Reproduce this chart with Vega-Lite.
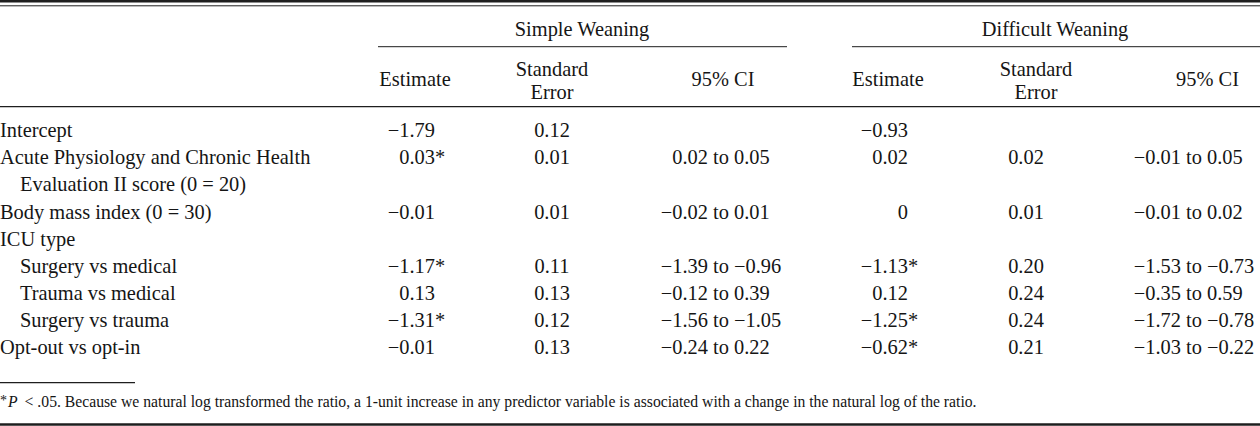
{
  "$schema": "https://vega.github.io/schema/vega-lite/v6.json",
  "width": 1260,
  "height": 426,
  "padding": 0,
  "autosize": {"type": "none"},
  "background": "white",
  "config": {
    "view": {"stroke": null},
    "axis": {"disable": true},
    "text": {"font": "Liberation Serif", "fontSize": 20.4, "color": "#151515", "baseline": "alphabetic"},
    "rule": {"color": "#1e1e1e"}
  },
  "datasets": {
    "rows": [
      {"line": 1, "label": "Intercept", "level": 0, "s_est": "−1.79", "s_se": "0.12", "d_est": "−0.93"},
      {"line": 2, "label": "Acute Physiology and Chronic Health", "level": 0, "s_est": "0.03", "s_sig": "*", "s_se": "0.01", "s_lo": "0.02", "s_hi": "0.05", "d_est": "0.02", "d_se": "0.02", "d_lo": "−0.01", "d_hi": "0.05"},
      {"line": 3, "label": "Evaluation II score (0 = 20)", "level": 1},
      {"line": 4, "label": "Body mass index (0 = 30)", "level": 0, "s_est": "−0.01", "s_se": "0.01", "s_lo": "−0.02", "s_hi": "0.01", "d_est": "0", "d_se": "0.01", "d_lo": "−0.01", "d_hi": "0.02"},
      {"line": 5, "label": "ICU type", "level": 0},
      {"line": 6, "label": "Surgery vs medical", "level": 1, "s_est": "−1.17", "s_sig": "*", "s_se": "0.11", "s_lo": "−1.39", "s_hi": "−0.96", "d_est": "−1.13", "d_sig": "*", "d_se": "0.20", "d_lo": "−1.53", "d_hi": "−0.73"},
      {"line": 7, "label": "Trauma vs medical", "level": 1, "s_est": "0.13", "s_se": "0.13", "s_lo": "−0.12", "s_hi": "0.39", "d_est": "0.12", "d_se": "0.24", "d_lo": "−0.35", "d_hi": "0.59"},
      {"line": 8, "label": "Surgery vs trauma", "level": 1, "s_est": "−1.31", "s_sig": "*", "s_se": "0.12", "s_lo": "−1.56", "s_hi": "−1.05", "d_est": "−1.25", "d_sig": "*", "d_se": "0.24", "d_lo": "−1.72", "d_hi": "−0.78"},
      {"line": 9, "label": "Opt-out vs opt-in", "level": 0, "s_est": "−0.01", "s_se": "0.13", "s_lo": "−0.24", "s_hi": "0.22", "d_est": "−0.62", "d_sig": "*", "d_se": "0.21", "d_lo": "−1.03", "d_hi": "−0.22"}
    ],
    "one": [{}]
  },
  "data": {"name": "rows"},
  "layer": [
    {"data": {"name": "one"}, "mark": {"type": "rule", "strokeWidth": 2.6},
     "encoding": {"x": {"datum": 0, "type": "quantitative", "scale": {"domain": [0,1,2,3,4,5,6,7,8,9,10,11,12,13,14,15,16,17,18,19,20,21,22,23], "range": [0,20,135,378,415,435,552,582,708,721,723,734,787,852,888,908,1026,1036,1055,1181,1194,1207,1207.5,1260], "nice": false, "zero": false}}, "x2": {"datum": 23},
       "y": {"datum": -7, "type": "quantitative", "scale": {"domain": [-7,-6,-5,-4,-3,-2,-1,1,9,10,11,12], "range": [1.3,5.8,36,46.7,76,86,106.7,137.3,354,382.7,407,424.5], "nice": false, "zero": false}}}},
    {"data": {"name": "one"}, "mark": {"type": "rule", "strokeWidth": 1},
     "encoding": {"x": {"datum": 0, "type": "quantitative", "scale": {"domain": [0,1,2,3,4,5,6,7,8,9,10,11,12,13,14,15,16,17,18,19,20,21,22,23], "range": [0,20,135,378,415,435,552,582,708,721,723,734,787,852,888,908,1026,1036,1055,1181,1194,1207,1207.5,1260], "nice": false, "zero": false}}, "x2": {"datum": 23},
       "y": {"datum": -6, "type": "quantitative", "scale": {"domain": [-7,-6,-5,-4,-3,-2,-1,1,9,10,11,12], "range": [1.3,5.8,36,46.7,76,86,106.7,137.3,354,382.7,407,424.5], "nice": false, "zero": false}}}},
    {"data": {"name": "one"}, "mark": {"type": "rule", "strokeWidth": 1},
     "encoding": {"x": {"datum": 3, "type": "quantitative", "scale": {"domain": [0,1,2,3,4,5,6,7,8,9,10,11,12,13,14,15,16,17,18,19,20,21,22,23], "range": [0,20,135,378,415,435,552,582,708,721,723,734,787,852,888,908,1026,1036,1055,1181,1194,1207,1207.5,1260], "nice": false, "zero": false}}, "x2": {"datum": 12},
       "y": {"datum": -4, "type": "quantitative", "scale": {"domain": [-7,-6,-5,-4,-3,-2,-1,1,9,10,11,12], "range": [1.3,5.8,36,46.7,76,86,106.7,137.3,354,382.7,407,424.5], "nice": false, "zero": false}}}},
    {"data": {"name": "one"}, "mark": {"type": "rule", "strokeWidth": 1},
     "encoding": {"x": {"datum": 13, "type": "quantitative", "scale": {"domain": [0,1,2,3,4,5,6,7,8,9,10,11,12,13,14,15,16,17,18,19,20,21,22,23], "range": [0,20,135,378,415,435,552,582,708,721,723,734,787,852,888,908,1026,1036,1055,1181,1194,1207,1207.5,1260], "nice": false, "zero": false}}, "x2": {"datum": 23},
       "y": {"datum": -4, "type": "quantitative", "scale": {"domain": [-7,-6,-5,-4,-3,-2,-1,1,9,10,11,12], "range": [1.3,5.8,36,46.7,76,86,106.7,137.3,354,382.7,407,424.5], "nice": false, "zero": false}}}},
    {"data": {"name": "one"}, "mark": {"type": "rule", "strokeWidth": 1.3},
     "encoding": {"x": {"datum": 0, "type": "quantitative", "scale": {"domain": [0,1,2,3,4,5,6,7,8,9,10,11,12,13,14,15,16,17,18,19,20,21,22,23], "range": [0,20,135,378,415,435,552,582,708,721,723,734,787,852,888,908,1026,1036,1055,1181,1194,1207,1207.5,1260], "nice": false, "zero": false}}, "x2": {"datum": 23},
       "y": {"datum": -1, "type": "quantitative", "scale": {"domain": [-7,-6,-5,-4,-3,-2,-1,1,9,10,11,12], "range": [1.3,5.8,36,46.7,76,86,106.7,137.3,354,382.7,407,424.5], "nice": false, "zero": false}}}},
    {"data": {"name": "one"}, "mark": {"type": "rule", "strokeWidth": 1.3},
     "encoding": {"x": {"datum": 0, "type": "quantitative", "scale": {"domain": [0,1,2,3,4,5,6,7,8,9,10,11,12,13,14,15,16,17,18,19,20,21,22,23], "range": [0,20,135,378,415,435,552,582,708,721,723,734,787,852,888,908,1026,1036,1055,1181,1194,1207,1207.5,1260], "nice": false, "zero": false}}, "x2": {"datum": 2},
       "y": {"datum": 10, "type": "quantitative", "scale": {"domain": [-7,-6,-5,-4,-3,-2,-1,1,9,10,11,12], "range": [1.3,5.8,36,46.7,76,86,106.7,137.3,354,382.7,407,424.5], "nice": false, "zero": false}}}},
    {"data": {"name": "one"}, "mark": {"type": "rule", "strokeWidth": 2.6},
     "encoding": {"x": {"datum": 0, "type": "quantitative", "scale": {"domain": [0,1,2,3,4,5,6,7,8,9,10,11,12,13,14,15,16,17,18,19,20,21,22,23], "range": [0,20,135,378,415,435,552,582,708,721,723,734,787,852,888,908,1026,1036,1055,1181,1194,1207,1207.5,1260], "nice": false, "zero": false}}, "x2": {"datum": 23},
       "y": {"datum": 12, "type": "quantitative", "scale": {"domain": [-7,-6,-5,-4,-3,-2,-1,1,9,10,11,12], "range": [1.3,5.8,36,46.7,76,86,106.7,137.3,354,382.7,407,424.5], "nice": false, "zero": false}}}},

    {"data": {"name": "one"}, "mark": {"type": "text", "align": "center", "text": "Simple Weaning"},
     "encoding": {"x": {"datum": 7, "type": "quantitative", "scale": {"domain": [0,1,2,3,4,5,6,7,8,9,10,11,12,13,14,15,16,17,18,19,20,21,22,23], "range": [0,20,135,378,415,435,552,582,708,721,723,734,787,852,888,908,1026,1036,1055,1181,1194,1207,1207.5,1260], "nice": false, "zero": false}},
       "y": {"datum": -5, "type": "quantitative", "scale": {"domain": [-7,-6,-5,-4,-3,-2,-1,1,9,10,11,12], "range": [1.3,5.8,36,46.7,76,86,106.7,137.3,354,382.7,407,424.5], "nice": false, "zero": false}}}},
    {"data": {"name": "one"}, "mark": {"type": "text", "align": "center", "text": "Difficult Weaning"},
     "encoding": {"x": {"datum": 18, "type": "quantitative", "scale": {"domain": [0,1,2,3,4,5,6,7,8,9,10,11,12,13,14,15,16,17,18,19,20,21,22,23], "range": [0,20,135,378,415,435,552,582,708,721,723,734,787,852,888,908,1026,1036,1055,1181,1194,1207,1207.5,1260], "nice": false, "zero": false}},
       "y": {"datum": -5, "type": "quantitative", "scale": {"domain": [-7,-6,-5,-4,-3,-2,-1,1,9,10,11,12], "range": [1.3,5.8,36,46.7,76,86,106.7,137.3,354,382.7,407,424.5], "nice": false, "zero": false}}}},
    {"data": {"name": "one"}, "mark": {"type": "text", "align": "center", "text": "Estimate"},
     "encoding": {"x": {"datum": 4, "type": "quantitative", "scale": {"domain": [0,1,2,3,4,5,6,7,8,9,10,11,12,13,14,15,16,17,18,19,20,21,22,23], "range": [0,20,135,378,415,435,552,582,708,721,723,734,787,852,888,908,1026,1036,1055,1181,1194,1207,1207.5,1260], "nice": false, "zero": false}},
       "y": {"datum": -2, "type": "quantitative", "scale": {"domain": [-7,-6,-5,-4,-3,-2,-1,1,9,10,11,12], "range": [1.3,5.8,36,46.7,76,86,106.7,137.3,354,382.7,407,424.5], "nice": false, "zero": false}}}},
    {"data": {"name": "one"}, "mark": {"type": "text", "align": "center", "text": "Estimate"},
     "encoding": {"x": {"datum": 14, "type": "quantitative", "scale": {"domain": [0,1,2,3,4,5,6,7,8,9,10,11,12,13,14,15,16,17,18,19,20,21,22,23], "range": [0,20,135,378,415,435,552,582,708,721,723,734,787,852,888,908,1026,1036,1055,1181,1194,1207,1207.5,1260], "nice": false, "zero": false}},
       "y": {"datum": -2, "type": "quantitative", "scale": {"domain": [-7,-6,-5,-4,-3,-2,-1,1,9,10,11,12], "range": [1.3,5.8,36,46.7,76,86,106.7,137.3,354,382.7,407,424.5], "nice": false, "zero": false}}}},
    {"data": {"name": "one"}, "mark": {"type": "text", "align": "center", "text": ["Standard", "Error"], "lineHeight": 22.7},
     "encoding": {"x": {"datum": 6, "type": "quantitative", "scale": {"domain": [0,1,2,3,4,5,6,7,8,9,10,11,12,13,14,15,16,17,18,19,20,21,22,23], "range": [0,20,135,378,415,435,552,582,708,721,723,734,787,852,888,908,1026,1036,1055,1181,1194,1207,1207.5,1260], "nice": false, "zero": false}},
       "y": {"datum": -3, "type": "quantitative", "scale": {"domain": [-7,-6,-5,-4,-3,-2,-1,1,9,10,11,12], "range": [1.3,5.8,36,46.7,76,86,106.7,137.3,354,382.7,407,424.5], "nice": false, "zero": false}}}},
    {"data": {"name": "one"}, "mark": {"type": "text", "align": "center", "text": ["Standard", "Error"], "lineHeight": 22.7},
     "encoding": {"x": {"datum": 17, "type": "quantitative", "scale": {"domain": [0,1,2,3,4,5,6,7,8,9,10,11,12,13,14,15,16,17,18,19,20,21,22,23], "range": [0,20,135,378,415,435,552,582,708,721,723,734,787,852,888,908,1026,1036,1055,1181,1194,1207,1207.5,1260], "nice": false, "zero": false}},
       "y": {"datum": -3, "type": "quantitative", "scale": {"domain": [-7,-6,-5,-4,-3,-2,-1,1,9,10,11,12], "range": [1.3,5.8,36,46.7,76,86,106.7,137.3,354,382.7,407,424.5], "nice": false, "zero": false}}}},
    {"data": {"name": "one"}, "mark": {"type": "text", "align": "center", "text": "95% CI"},
     "encoding": {"x": {"datum": 10, "type": "quantitative", "scale": {"domain": [0,1,2,3,4,5,6,7,8,9,10,11,12,13,14,15,16,17,18,19,20,21,22,23], "range": [0,20,135,378,415,435,552,582,708,721,723,734,787,852,888,908,1026,1036,1055,1181,1194,1207,1207.5,1260], "nice": false, "zero": false}},
       "y": {"datum": -2, "type": "quantitative", "scale": {"domain": [-7,-6,-5,-4,-3,-2,-1,1,9,10,11,12], "range": [1.3,5.8,36,46.7,76,86,106.7,137.3,354,382.7,407,424.5], "nice": false, "zero": false}}}},
    {"data": {"name": "one"}, "mark": {"type": "text", "align": "center", "text": "95% CI"},
     "encoding": {"x": {"datum": 22, "type": "quantitative", "scale": {"domain": [0,1,2,3,4,5,6,7,8,9,10,11,12,13,14,15,16,17,18,19,20,21,22,23], "range": [0,20,135,378,415,435,552,582,708,721,723,734,787,852,888,908,1026,1036,1055,1181,1194,1207,1207.5,1260], "nice": false, "zero": false}},
       "y": {"datum": -2, "type": "quantitative", "scale": {"domain": [-7,-6,-5,-4,-3,-2,-1,1,9,10,11,12], "range": [1.3,5.8,36,46.7,76,86,106.7,137.3,354,382.7,407,424.5], "nice": false, "zero": false}}}},

    {"mark": {"type": "text", "align": "left"},
     "encoding": {"x": {"field": "level", "type": "quantitative", "scale": {"domain": [0,1,2,3,4,5,6,7,8,9,10,11,12,13,14,15,16,17,18,19,20,21,22,23], "range": [0,20,135,378,415,435,552,582,708,721,723,734,787,852,888,908,1026,1036,1055,1181,1194,1207,1207.5,1260], "nice": false, "zero": false}},
       "y": {"field": "line", "type": "quantitative", "scale": {"domain": [-7,-6,-5,-4,-3,-2,-1,1,9,10,11,12], "range": [1.3,5.8,36,46.7,76,86,106.7,137.3,354,382.7,407,424.5], "nice": false, "zero": false}},
       "text": {"field": "label"}}},

    {"transform": [{"filter": "isValid(datum.s_est)"}], "mark": {"type": "text", "align": "right"},
     "encoding": {"x": {"datum": 5, "type": "quantitative", "scale": {"domain": [0,1,2,3,4,5,6,7,8,9,10,11,12,13,14,15,16,17,18,19,20,21,22,23], "range": [0,20,135,378,415,435,552,582,708,721,723,734,787,852,888,908,1026,1036,1055,1181,1194,1207,1207.5,1260], "nice": false, "zero": false}},
       "y": {"field": "line", "type": "quantitative", "scale": {"domain": [-7,-6,-5,-4,-3,-2,-1,1,9,10,11,12], "range": [1.3,5.8,36,46.7,76,86,106.7,137.3,354,382.7,407,424.5], "nice": false, "zero": false}},
       "text": {"field": "s_est"}}},
    {"transform": [{"filter": "isValid(datum.s_sig)"}], "mark": {"type": "text", "align": "left"},
     "encoding": {"x": {"datum": 5, "type": "quantitative", "scale": {"domain": [0,1,2,3,4,5,6,7,8,9,10,11,12,13,14,15,16,17,18,19,20,21,22,23], "range": [0,20,135,378,415,435,552,582,708,721,723,734,787,852,888,908,1026,1036,1055,1181,1194,1207,1207.5,1260], "nice": false, "zero": false}},
       "y": {"field": "line", "type": "quantitative", "scale": {"domain": [-7,-6,-5,-4,-3,-2,-1,1,9,10,11,12], "range": [1.3,5.8,36,46.7,76,86,106.7,137.3,354,382.7,407,424.5], "nice": false, "zero": false}},
       "text": {"field": "s_sig"}}},
    {"transform": [{"filter": "isValid(datum.s_se)"}], "mark": {"type": "text", "align": "center"},
     "encoding": {"x": {"datum": 6, "type": "quantitative", "scale": {"domain": [0,1,2,3,4,5,6,7,8,9,10,11,12,13,14,15,16,17,18,19,20,21,22,23], "range": [0,20,135,378,415,435,552,582,708,721,723,734,787,852,888,908,1026,1036,1055,1181,1194,1207,1207.5,1260], "nice": false, "zero": false}},
       "y": {"field": "line", "type": "quantitative", "scale": {"domain": [-7,-6,-5,-4,-3,-2,-1,1,9,10,11,12], "range": [1.3,5.8,36,46.7,76,86,106.7,137.3,354,382.7,407,424.5], "nice": false, "zero": false}},
       "text": {"field": "s_se"}}},
    {"transform": [{"filter": "isValid(datum.s_lo)"}], "mark": {"type": "text", "align": "right"},
     "encoding": {"x": {"datum": 8, "type": "quantitative", "scale": {"domain": [0,1,2,3,4,5,6,7,8,9,10,11,12,13,14,15,16,17,18,19,20,21,22,23], "range": [0,20,135,378,415,435,552,582,708,721,723,734,787,852,888,908,1026,1036,1055,1181,1194,1207,1207.5,1260], "nice": false, "zero": false}},
       "y": {"field": "line", "type": "quantitative", "scale": {"domain": [-7,-6,-5,-4,-3,-2,-1,1,9,10,11,12], "range": [1.3,5.8,36,46.7,76,86,106.7,137.3,354,382.7,407,424.5], "nice": false, "zero": false}},
       "text": {"field": "s_lo"}}},
    {"transform": [{"filter": "isValid(datum.s_lo)"}], "mark": {"type": "text", "align": "center", "text": "to"},
     "encoding": {"x": {"datum": 9, "type": "quantitative", "scale": {"domain": [0,1,2,3,4,5,6,7,8,9,10,11,12,13,14,15,16,17,18,19,20,21,22,23], "range": [0,20,135,378,415,435,552,582,708,721,723,734,787,852,888,908,1026,1036,1055,1181,1194,1207,1207.5,1260], "nice": false, "zero": false}},
       "y": {"field": "line", "type": "quantitative", "scale": {"domain": [-7,-6,-5,-4,-3,-2,-1,1,9,10,11,12], "range": [1.3,5.8,36,46.7,76,86,106.7,137.3,354,382.7,407,424.5], "nice": false, "zero": false}}}},
    {"transform": [{"filter": "isValid(datum.s_hi)"}], "mark": {"type": "text", "align": "left"},
     "encoding": {"x": {"datum": 11, "type": "quantitative", "scale": {"domain": [0,1,2,3,4,5,6,7,8,9,10,11,12,13,14,15,16,17,18,19,20,21,22,23], "range": [0,20,135,378,415,435,552,582,708,721,723,734,787,852,888,908,1026,1036,1055,1181,1194,1207,1207.5,1260], "nice": false, "zero": false}},
       "y": {"field": "line", "type": "quantitative", "scale": {"domain": [-7,-6,-5,-4,-3,-2,-1,1,9,10,11,12], "range": [1.3,5.8,36,46.7,76,86,106.7,137.3,354,382.7,407,424.5], "nice": false, "zero": false}},
       "text": {"field": "s_hi"}}},

    {"transform": [{"filter": "isValid(datum.d_est)"}], "mark": {"type": "text", "align": "right"},
     "encoding": {"x": {"datum": 15, "type": "quantitative", "scale": {"domain": [0,1,2,3,4,5,6,7,8,9,10,11,12,13,14,15,16,17,18,19,20,21,22,23], "range": [0,20,135,378,415,435,552,582,708,721,723,734,787,852,888,908,1026,1036,1055,1181,1194,1207,1207.5,1260], "nice": false, "zero": false}},
       "y": {"field": "line", "type": "quantitative", "scale": {"domain": [-7,-6,-5,-4,-3,-2,-1,1,9,10,11,12], "range": [1.3,5.8,36,46.7,76,86,106.7,137.3,354,382.7,407,424.5], "nice": false, "zero": false}},
       "text": {"field": "d_est"}}},
    {"transform": [{"filter": "isValid(datum.d_sig)"}], "mark": {"type": "text", "align": "left"},
     "encoding": {"x": {"datum": 15, "type": "quantitative", "scale": {"domain": [0,1,2,3,4,5,6,7,8,9,10,11,12,13,14,15,16,17,18,19,20,21,22,23], "range": [0,20,135,378,415,435,552,582,708,721,723,734,787,852,888,908,1026,1036,1055,1181,1194,1207,1207.5,1260], "nice": false, "zero": false}},
       "y": {"field": "line", "type": "quantitative", "scale": {"domain": [-7,-6,-5,-4,-3,-2,-1,1,9,10,11,12], "range": [1.3,5.8,36,46.7,76,86,106.7,137.3,354,382.7,407,424.5], "nice": false, "zero": false}},
       "text": {"field": "d_sig"}}},
    {"transform": [{"filter": "isValid(datum.d_se)"}], "mark": {"type": "text", "align": "center"},
     "encoding": {"x": {"datum": 16, "type": "quantitative", "scale": {"domain": [0,1,2,3,4,5,6,7,8,9,10,11,12,13,14,15,16,17,18,19,20,21,22,23], "range": [0,20,135,378,415,435,552,582,708,721,723,734,787,852,888,908,1026,1036,1055,1181,1194,1207,1207.5,1260], "nice": false, "zero": false}},
       "y": {"field": "line", "type": "quantitative", "scale": {"domain": [-7,-6,-5,-4,-3,-2,-1,1,9,10,11,12], "range": [1.3,5.8,36,46.7,76,86,106.7,137.3,354,382.7,407,424.5], "nice": false, "zero": false}},
       "text": {"field": "d_se"}}},
    {"transform": [{"filter": "isValid(datum.d_lo)"}], "mark": {"type": "text", "align": "right"},
     "encoding": {"x": {"datum": 19, "type": "quantitative", "scale": {"domain": [0,1,2,3,4,5,6,7,8,9,10,11,12,13,14,15,16,17,18,19,20,21,22,23], "range": [0,20,135,378,415,435,552,582,708,721,723,734,787,852,888,908,1026,1036,1055,1181,1194,1207,1207.5,1260], "nice": false, "zero": false}},
       "y": {"field": "line", "type": "quantitative", "scale": {"domain": [-7,-6,-5,-4,-3,-2,-1,1,9,10,11,12], "range": [1.3,5.8,36,46.7,76,86,106.7,137.3,354,382.7,407,424.5], "nice": false, "zero": false}},
       "text": {"field": "d_lo"}}},
    {"transform": [{"filter": "isValid(datum.d_lo)"}], "mark": {"type": "text", "align": "center", "text": "to"},
     "encoding": {"x": {"datum": 20, "type": "quantitative", "scale": {"domain": [0,1,2,3,4,5,6,7,8,9,10,11,12,13,14,15,16,17,18,19,20,21,22,23], "range": [0,20,135,378,415,435,552,582,708,721,723,734,787,852,888,908,1026,1036,1055,1181,1194,1207,1207.5,1260], "nice": false, "zero": false}},
       "y": {"field": "line", "type": "quantitative", "scale": {"domain": [-7,-6,-5,-4,-3,-2,-1,1,9,10,11,12], "range": [1.3,5.8,36,46.7,76,86,106.7,137.3,354,382.7,407,424.5], "nice": false, "zero": false}}}},
    {"transform": [{"filter": "isValid(datum.d_hi)"}], "mark": {"type": "text", "align": "left"},
     "encoding": {"x": {"datum": 21, "type": "quantitative", "scale": {"domain": [0,1,2,3,4,5,6,7,8,9,10,11,12,13,14,15,16,17,18,19,20,21,22,23], "range": [0,20,135,378,415,435,552,582,708,721,723,734,787,852,888,908,1026,1036,1055,1181,1194,1207,1207.5,1260], "nice": false, "zero": false}},
       "y": {"field": "line", "type": "quantitative", "scale": {"domain": [-7,-6,-5,-4,-3,-2,-1,1,9,10,11,12], "range": [1.3,5.8,36,46.7,76,86,106.7,137.3,354,382.7,407,424.5], "nice": false, "zero": false}},
       "text": {"field": "d_hi"}}},

    {"data": {"name": "one"}, "mark": {"type": "text", "align": "left", "fontSize": 14, "text": "*", "dy": -2},
     "encoding": {"x": {"datum": 0, "type": "quantitative", "scale": {"domain": [0,1,2,3,4,5,6,7,8,9,10,11,12,13,14,15,16,17,18,19,20,21,22,23], "range": [0,20,135,378,415,435,552,582,708,721,723,734,787,852,888,908,1026,1036,1055,1181,1194,1207,1207.5,1260], "nice": false, "zero": false}},
       "y": {"datum": 11, "type": "quantitative", "scale": {"domain": [-7,-6,-5,-4,-3,-2,-1,1,9,10,11,12], "range": [1.3,5.8,36,46.7,76,86,106.7,137.3,354,382.7,407,424.5], "nice": false, "zero": false}}}},
    {"data": {"name": "one"}, "mark": {"type": "text", "align": "left", "fontSize": 15.7, "fontStyle": "italic", "text": "P"},
     "encoding": {"x": {"datum": 0.4, "type": "quantitative", "scale": {"domain": [0,1,2,3,4,5,6,7,8,9,10,11,12,13,14,15,16,17,18,19,20,21,22,23], "range": [0,20,135,378,415,435,552,582,708,721,723,734,787,852,888,908,1026,1036,1055,1181,1194,1207,1207.5,1260], "nice": false, "zero": false}},
       "y": {"datum": 11, "type": "quantitative", "scale": {"domain": [-7,-6,-5,-4,-3,-2,-1,1,9,10,11,12], "range": [1.3,5.8,36,46.7,76,86,106.7,137.3,354,382.7,407,424.5], "nice": false, "zero": false}}}},
    {"data": {"name": "one"}, "mark": {"type": "text", "align": "left", "fontSize": 15.7, "text": "< .05. Because we natural log transformed the ratio, a 1-unit increase in any predictor variable is associated with a change in the natural log of the ratio."},
     "encoding": {"x": {"datum": 1.04, "type": "quantitative", "scale": {"domain": [0,1,2,3,4,5,6,7,8,9,10,11,12,13,14,15,16,17,18,19,20,21,22,23], "range": [0,20,135,378,415,435,552,582,708,721,723,734,787,852,888,908,1026,1036,1055,1181,1194,1207,1207.5,1260], "nice": false, "zero": false}},
       "y": {"datum": 11, "type": "quantitative", "scale": {"domain": [-7,-6,-5,-4,-3,-2,-1,1,9,10,11,12], "range": [1.3,5.8,36,46.7,76,86,106.7,137.3,354,382.7,407,424.5], "nice": false, "zero": false}}}}
  ]
}
